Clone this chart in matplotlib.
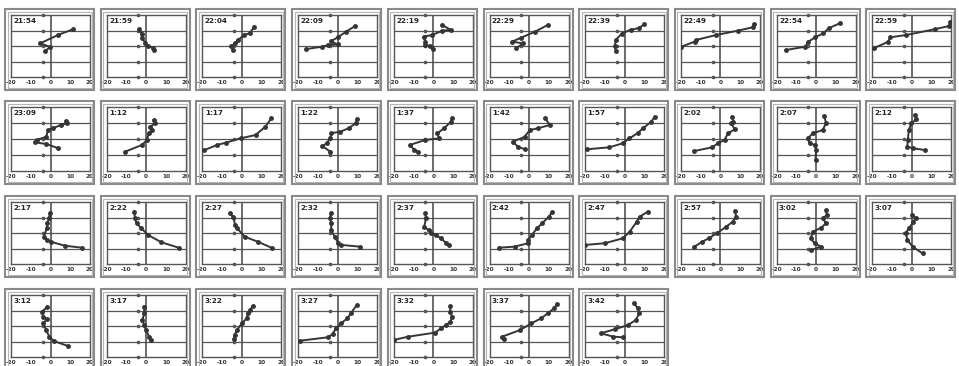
import numpy as np
import matplotlib.pyplot as plt
from matplotlib.patches import Rectangle

# time labels, one per small panel
times_row1 = ["21:54", "21:59", "22:04", "22:09", "22:19",
              "22:29", "22:39", "22:49", "22:54", "22:59"]
times_row2 = ["23:09", "1:12", "1:17", "1:22", "1:37",
              "1:42", "1:57", "2:02", "2:07", "2:12"]
times_row3 = ["2:17", "2:22", "2:27", "2:32", "2:37",
              "2:42", "2:47", "2:57", "3:02", "3:07"]
times_row4 = ["3:12", "3:17", "3:22", "3:27", "3:32", "3:37", "3:42"]

# profiles (x = value, y = level)
x_row1 = [
    [11.4, 4.0, -5.1, -0.2, -3.0],
    [-3.8, -2.2, -2.2, -0.5, 0.8, 3.5, 3.8],
    [6.2, 4.0, 1.2, -1.8, -3.5, -5.5, -4.7],
    [9.0, 4.0, 0.0, -3.5, 0.0, -5.0, -8.0, -16.0],
    [4.6, 8.9, 4.6, -0.6, -4.9, -4.1, -4.1, -1.5, -0.3],
    [9.4, 3.0, -3.9, -8.6, -3.0, -6.4],
    [10.0, 7.0, 3.0, -1.5, -4.5, -5.0, -4.5],
    [17.0, 16.5, 8.9, -2.1, -12.3, -13.1, -19.8],
    [11.9, 6.3, 3.7, -0.5, -3.9, -5.6, -15.4],
    [19.4, 19.0, 11.5, -2.7, -11.0, -11.9, -19.3],
]
y_row1 = [
    [3.08, 2.72, 2.18, 1.93, 1.65],
    [3.08, 2.78, 2.50, 2.22, 1.97, 1.90, 1.71],
    [3.25, 2.82, 2.72, 2.40, 2.18, 1.97, 1.75],
    [3.30, 2.90, 2.55, 2.30, 2.10, 2.05, 1.95, 1.80],
    [3.35, 3.03, 2.99, 2.71, 2.60, 2.28, 2.06, 2.00, 1.79],
    [3.35, 2.92, 2.54, 2.28, 2.17, 1.85],
    [3.40, 3.15, 3.05, 2.80, 2.40, 2.00, 1.65],
    [3.42, 3.21, 2.99, 2.71, 2.39, 2.28, 1.95],
    [3.46, 3.14, 2.82, 2.56, 2.28, 1.95, 1.74],
    [3.57, 3.29, 3.08, 2.71, 2.56, 2.28, 1.85],
]

x_row2 = [
    [7.7, 8.4, 5.2, 1.1, -1.3, -2.1, -7.0, -7.8, -2.1, 4.0],
    [3.7, 4.5, 2.1, 2.9, 1.2, 0.4, -2.1, -10.6],
    [14.9, 11.9, 6.9, -0.7, -8.2, -12.4, -19.0],
    [9.9, 9.1, 5.6, 1.4, -3.2, -3.7, -5.5, -7.7, -3.7],
    [9.5, 8.9, 5.5, 2.0, 2.9, -4.1, -11.8, -9.6, -7.5],
    [8.1, 10.6, 4.6, 0.4, -2.2, -8.2, -5.6, -2.2],
    [15.2, 13.5, 9.2, 6.7, 2.4, -1.0, -7.8, -19.0],
    [6.0, 6.6, 5.5, 7.2, 3.8, 2.1, -1.3, -4.2, -13.2],
    [4.2, 5.0, 3.3, -1.7, -4.2, -3.3, -0.8, 0.0, -0.3],
    [1.5, 2.3, -0.3, -1.5, -2.0, -2.3, 0.6, 6.6],
]
y_row2 = [
    [3.14, 2.98, 2.87, 2.67, 2.56, 2.14, 1.94, 1.79, 1.69, 1.42],
    [3.19, 2.98, 2.77, 2.56, 2.35, 1.94, 1.63, 1.21],
    [3.29, 2.77, 2.25, 2.04, 1.77, 1.63, 1.31],
    [3.23, 2.98, 2.67, 2.46, 2.36, 2.04, 1.73, 1.56, 1.21],
    [3.29, 3.08, 2.67, 2.35, 2.04, 1.94, 1.63, 1.31, 1.21],
    [3.29, 2.88, 2.67, 2.56, 2.14, 1.83, 1.52, 1.36],
    [3.40, 3.08, 2.67, 2.38, 2.04, 1.73, 1.48, 1.36],
    [3.39, 3.08, 2.98, 2.60, 2.35, 1.94, 1.73, 1.48, 1.25],
    [3.44, 2.98, 2.56, 2.35, 2.04, 1.73, 1.63, 1.31, 0.69],
    [3.50, 3.23, 2.98, 2.56, 1.94, 1.52, 1.42, 1.31],
]

x_row3 = [
    [-0.3, -0.8, -1.6, -1.9, -3.3, -1.6, 0.0, 7.3, 15.9],
    [-6.0, -5.7, -4.9, -2.4, 1.0, 7.7, 16.5],
    [-6.2, -4.5, -3.4, -2.4, 1.4, 8.0, 15.0],
    [-3.4, -3.9, -3.1, -3.4, -1.4, 0.3, 1.9, 11.2],
    [-4.1, -3.7, -4.6, -2.4, -1.2, 1.4, 3.9, 6.5, 7.8],
    [11.8, 10.0, 6.6, 4.0, 1.4, -0.4, -0.4, -7.3, -15.1],
    [11.7, 7.5, 6.0, 2.5, -0.9, -10.0, -20.0],
    [7.5, 7.9, 6.2, 3.0, -1.8, -5.9, -9.1, -13.2],
    [5.0, 5.5, 3.4, 5.0, 2.5, -1.6, -2.8, -0.8, 2.5, -2.5],
    [0.0, 2.1, 0.7, -1.4, -3.1, -2.2, 0.4, 5.5],
]
y_row3 = [
    [3.27, 2.95, 2.62, 2.30, 1.76, 1.55, 1.44, 1.18, 1.05],
    [3.37, 2.95, 2.62, 2.30, 1.87, 1.40, 1.05],
    [3.27, 3.05, 2.52, 2.30, 1.76, 1.44, 1.05],
    [3.27, 2.95, 2.62, 2.19, 1.76, 1.34, 1.23, 1.12],
    [3.27, 2.95, 2.41, 2.19, 1.98, 1.87, 1.66, 1.34, 1.23],
    [3.34, 3.05, 2.62, 2.30, 1.87, 1.55, 1.34, 1.12, 1.05],
    [3.37, 3.05, 2.71, 2.08, 1.66, 1.34, 1.23],
    [3.42, 3.05, 2.73, 2.41, 1.98, 1.66, 1.44, 1.12],
    [3.48, 3.16, 2.95, 2.62, 2.34, 2.08, 1.66, 1.34, 1.12, 0.90],
    [3.19, 2.97, 2.71, 2.31, 1.99, 1.55, 1.11, 0.68],
]

x_row4 = [
    [-1.9, -4.3, -3.6, -1.9, -3.6, -2.2, -0.6, 1.7, 8.8],
    [-1.0, -1.0, -1.9, -1.0, -0.2, 1.5, 2.4],
    [5.4, 4.2, 3.0, 2.5, 0.0, -2.5, -3.7, -4.2],
    [9.7, 6.7, 5.0, 1.7, -0.9, -2.5, -5.0, -19.2],
    [8.7, 8.4, 9.5, 8.7, 6.3, 4.0, 0.8, -12.7, -20.0],
    [14.1, 12.7, 9.5, 6.2, 1.2, -4.5, -13.6, -12.7],
    [4.9, 6.5, 7.3, 5.7, 1.6, -4.9, -12.2, -5.7, -0.8],
]
y_row4 = [
    [3.20, 2.92, 2.60, 2.43, 2.17, 1.74, 1.31, 1.03, 0.71],
    [3.25, 2.82, 2.39, 2.06, 1.74, 1.31, 1.10],
    [3.29, 3.03, 2.82, 2.50, 2.17, 1.74, 1.42, 1.14],
    [3.35, 2.82, 2.50, 2.17, 1.85, 1.48, 1.27, 1.05],
    [3.29, 2.92, 2.60, 2.28, 2.06, 1.85, 1.57, 1.31, 1.10],
    [3.42, 3.14, 2.82, 2.50, 2.17, 1.74, 1.31, 1.14],
    [3.46, 3.14, 2.82, 2.39, 2.06, 1.79, 1.53, 1.31, 1.27],
]

# small reference dots printed on every panel
ref_x = -4
ref_levels = [0, 1, 2, 3, 4]
x_ticks = [-20, -10, 0, 10, 20]
grid_levels = [1, 2, 3]

rows = [
    (times_row1, x_row1, y_row1),
    (times_row2, x_row2, y_row2),
    (times_row3, x_row3, y_row3),
    (times_row4, x_row4, y_row4),
]

W, H = 959, 366
fig = plt.figure(figsize=(W / 100, H / 100), dpi=100)
fig.patch.set_facecolor("white")

row_tops = [15, 107, 202, 295]
row_h = [62, 64, 62, 62]
ink = "#353535"

for r, (times, xs, ys) in enumerate(rows):
    for c, lab in enumerate(times):
        l = 11 + 95.7 * c
        w = 79
        t = row_tops[r]
        h = row_h[r]
        b = t + h

        # double grey frame around each panel
        for off, lw, col in [(0, 1.5, "#8a8a8a"), (2.5, 0.8, "#b5b5b5")]:
            x0 = l - 6 + off
            y0 = b + 13 - off
            fig.add_artist(Rectangle((x0 / W, 1 - y0 / H),
                                     (w + 10 - 2 * off) / W,
                                     (h + 19 - 2 * off) / H,
                                     transform=fig.transFigure,
                                     fill=False, lw=lw, ec=col))

        ax = fig.add_axes([l / W, 1 - b / H, w / W, h / H])
        ax.set_xlim(-20, 20)
        ax.set_ylim(0, 4)
        for lv in grid_levels:
            ax.axhline(lv, color="#555555", lw=0.9, zorder=1)
        ax.axvline(0, color="#444444", lw=1.1, zorder=1)
        ax.plot([ref_x] * len(ref_levels), ref_levels, "o", ms=1.6,
                color="#555555", clip_on=False, zorder=2)
        ax.plot(xs[c], ys[c], "-o", color=ink, lw=1.4, ms=2.5, zorder=3)

        ax.text(0.03, 0.95, lab, transform=ax.transAxes, fontsize=5.2,
                va="top", ha="left", color="#222222", fontweight="bold")

        ax.set_xticks(x_ticks)
        ax.set_xticklabels([str(v) for v in x_ticks])
        ax.set_yticks([])
        ax.tick_params(axis="x", length=0, labelsize=4.2, pad=2,
                       colors="#333333")
        for lbl in ax.get_xticklabels():
            lbl.set_fontweight("bold")
        for sp in ax.spines.values():
            sp.set_color("#555555")
            sp.set_linewidth(1.0)

fig.savefig("out.png", dpi=100, facecolor="white")
